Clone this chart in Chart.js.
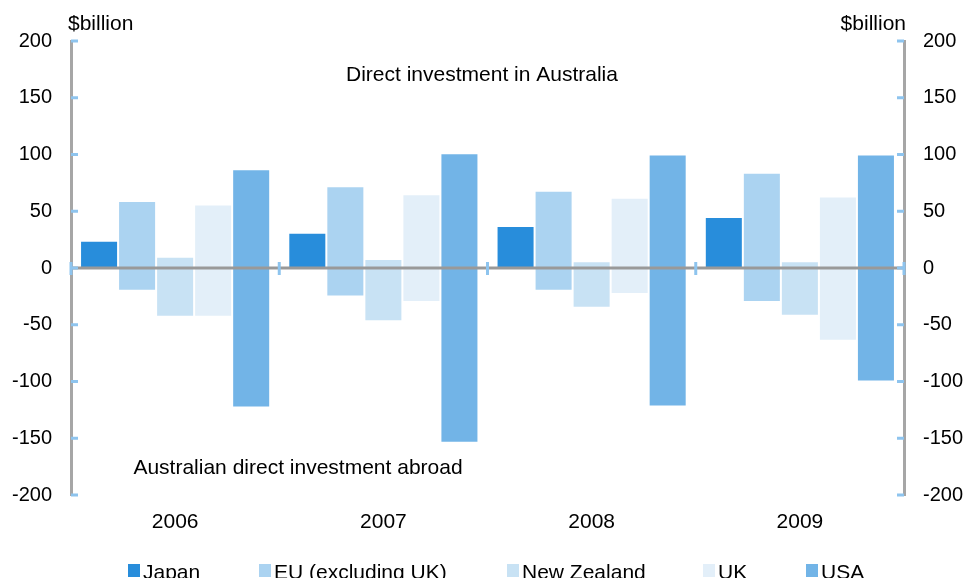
<!DOCTYPE html>
<html>
<head>
<meta charset="utf-8">
<script src="https://cdn.jsdelivr.net/npm/chart.js@4.4.0/dist/chart.umd.min.js"></script>
<style>
  body { margin: 0; background: #fff; }
  #wrap { width: 968px; height: 578px; }
</style>
</head>
<body>
<div id="wrap"><canvas id="fdiChart" width="968" height="578"></canvas></div>
<script>
// data ($billion)
const years = ['2006', '2007', '2008', '2009'];
const countries = ['Japan', 'EU (excluding UK)', 'New Zealand', 'UK', 'USA'];

// direct investment in Australia (positive side)
const japanIn = [24, 31, 37, 45];
const euIn = [59, 72, 68, 84];
const nzIn = [10, 8, 6, 6];
const ukIn = [56, 65, 62, 63];
const usaIn = [87, 101, 100, 100];

// Australian direct investment abroad (negative side)
const japanOut = [null, null, null, null];
const euOut = [-20, -25, -20, -30];
const nzOut = [-43, -47, -35, -42];
const ukOut = [-43, -30, -23, -64];
const usaOut = [-123, -154, -122, -100];

const yTicks = [-200, -150, -100, -50, 0, 50, 100, 150, 200];

const colours = ['#288ddb', '#abd3f1', '#c8e2f4', '#e3eff9', '#72b4e7'];
const FONT = '"Liberation Sans", Arial, sans-serif';

const inflows = [japanIn, euIn, nzIn, ukIn, usaIn];
const outflows = [japanOut, euOut, nzOut, ukOut, usaOut];

const datasets = [];
countries.forEach((c, i) => {
  datasets.push({
    label: c,
    data: inflows[i],
    stack: c,
    backgroundColor: colours[i],
    borderColor: 'rgba(255,255,255,0.6)',
    borderWidth: 1
  });
});
countries.forEach((c, i) => {
  datasets.push({
    label: c + ' abroad',
    data: outflows[i],
    stack: c,
    backgroundColor: colours[i],
    borderColor: 'rgba(255,255,255,0.6)',
    borderWidth: 1
  });
});

// axis marks, zero line, notes and legend
const decor = {
  id: 'decor',
  afterDatasetsDraw(chart) {
    const ctx = chart.ctx;
    const a = chart.chartArea;
    const y = chart.scales.y;
    const y0 = y.getPixelForValue(0);
    ctx.save();

    // zero line
    ctx.strokeStyle = '#999999';
    ctx.lineWidth = 3;
    ctx.beginPath();
    ctx.moveTo(a.left, y0);
    ctx.lineTo(a.right, y0);
    ctx.stroke();

    // small blue ticks on both value axes
    ctx.strokeStyle = '#8ec4ee';
    ctx.lineWidth = 3;
    yTicks.forEach(v => {
      const py = y.getPixelForValue(v);
      ctx.beginPath();
      ctx.moveTo(a.left, py);
      ctx.lineTo(a.left + 7, py);
      ctx.moveTo(a.right - 7, py);
      ctx.lineTo(a.right, py);
      ctx.stroke();
    });

    // category boundary marks on the zero line
    const step = (a.right - a.left) / years.length;
    for (let i = 0; i <= years.length; i++) {
      const px = a.left + step * i;
      ctx.beginPath();
      ctx.moveTo(px, y0 - 6);
      ctx.lineTo(px, y0 + 7);
      ctx.stroke();
    }

    // notes
    ctx.fillStyle = '#000';
    ctx.font = '21px ' + FONT;
    ctx.textBaseline = 'middle';
    ctx.textAlign = 'center';
    ctx.fillText('Direct investment in Australia', 482, 75);
    ctx.fillText('Australian direct investment abroad', 298, 468);
    ctx.textAlign = 'left';
    ctx.fillText('$billion', 68, 24);
    ctx.textAlign = 'right';
    ctx.fillText('$billion', 906, 24);

    // legend
    const legendX = [128, 259, 507, 703, 806];
    ctx.font = '21px ' + FONT;
    ctx.textAlign = 'left';
    ctx.textBaseline = 'alphabetic';
    countries.forEach((c, i) => {
      ctx.fillStyle = colours[i];
      ctx.fillRect(legendX[i], 564, 12, 13);
      ctx.fillStyle = '#000';
      ctx.fillText(c, legendX[i] + 15, 579);
    });
    ctx.restore();
  }
};

const tickFont = { size: 20, family: FONT };

new Chart(document.getElementById('fdiChart'), {
  type: 'bar',
  data: { labels: years, datasets: datasets },
  options: {
    responsive: false,
    animation: false,
    layout: { padding: { top: 41 } },
    categoryPercentage: 0.913,
    barPercentage: 1,
    plugins: {
      legend: { display: false },
      tooltip: { enabled: false }
    },
    scales: {
      x: {
        stacked: true,
        grid: { display: false, drawTicks: false },
        border: { display: false },
        ticks: { color: '#000', font: { size: 21, family: FONT }, padding: 15 },
        afterFit(s) { s.height = 83; }
      },
      y: {
        stacked: true,
        position: 'left',
        min: -200,
        max: 200,
        grid: { display: false, drawTicks: false },
        border: { display: true, color: '#a6a6a6', width: 3 },
        ticks: { stepSize: 50, color: '#000', font: tickFont, padding: 19 },
        afterFit(s) { s.width = 71; }
      },
      y2: {
        position: 'right',
        min: -200,
        max: 200,
        grid: { display: false, drawTicks: false },
        border: { display: true, color: '#a6a6a6', width: 3 },
        ticks: { stepSize: 50, color: '#000', font: tickFont, padding: 19 },
        afterFit(s) { s.width = 64; }
      }
    }
  },
  plugins: [decor]
});
</script>
</body>
</html>
